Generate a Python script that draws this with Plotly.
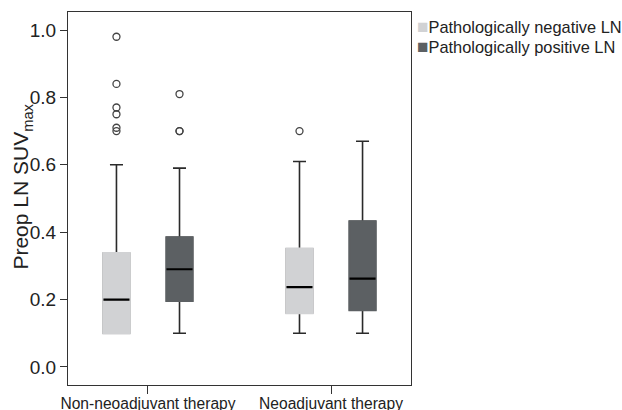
import plotly.graph_objects as go

categories = ["Non-neoadjuvant therapy", "Neoadjuvant therapy"]
series_names = ["Pathologically negative LN", "Pathologically positive LN"]

neg_q1 = [0.10, 0.160]
neg_median = [0.20, 0.237]
neg_q3 = [0.338, 0.351]
neg_lower = [0.10, 0.10]
neg_upper = [0.60, 0.61]
neg_outliers = [[0.98, 0.84, 0.77, 0.75, 0.71, 0.70], [0.70]]

pos_q1 = [0.196, 0.169]
pos_median = [0.290, 0.262]
pos_q3 = [0.385, 0.432]
pos_lower = [0.10, 0.10]
pos_upper = [0.59, 0.67]
pos_outliers = [[0.81, 0.70, 0.70], []]

y_ticks = [0.0, 0.2, 0.4, 0.6, 0.8, 1.0]

fills = ["#d1d2d4", "#5c6063"]
FONT = "Liberation Sans, Arial, Helvetica, sans-serif"

series = [
    (series_names[0], neg_q1, neg_median, neg_q3, neg_lower, neg_upper, neg_outliers, fills[0]),
    (series_names[1], pos_q1, pos_median, pos_q3, pos_lower, pos_upper, pos_outliers, fills[1]),
]

fig = go.Figure()
for name, q1, med, q3, lo, hi, outs, fill in series:
    grp = name
    # full box: whiskers, caps, outliers
    fig.add_trace(go.Box(
        x=categories, q1=q1, median=med, q3=q3, lowerfence=lo, upperfence=hi,
        y=outs, boxpoints="outliers", jitter=0, pointpos=0,
        offsetgroup=grp, name=name, showlegend=False,
        fillcolor=fill, whiskerwidth=0.5,
        line=dict(color="#2a2a2a", width=1.6),
        marker=dict(symbol="circle-open", size=7, color="#444444",
                    line=dict(width=1.3, color="#444444")),
        hoverinfo="skip",
    ))
    # box body without outline
    fig.add_trace(go.Box(
        x=categories, q1=q1, median=q1, q3=q3, lowerfence=q1, upperfence=q3,
        offsetgroup=grp, name=name, showlegend=False, boxpoints=False,
        fillcolor=fill, whiskerwidth=0.5,
        line=dict(color=fill, width=2.2), hoverinfo="skip",
    ))
    # median line
    fig.add_trace(go.Box(
        x=categories, q1=med, median=med, q3=med, lowerfence=med, upperfence=med,
        offsetgroup=grp, name=name, showlegend=False, boxpoints=False,
        fillcolor="rgba(0,0,0,0)", whiskerwidth=0.5,
        line=dict(color="#000000", width=2.2), hoverinfo="skip",
    ))

# legend built from annotations (colored square + label in one text)
row_y = [0.962, 0.908]
for i, (name, fill) in enumerate(zip(series_names, fills)):
    fig.add_annotation(
        x=1, y=row_y[i], xref="paper", yref="paper", xanchor="left", yanchor="middle",
        xshift=4,
        text=f'<span style="color:{fill};font-size:19px">■</span>{name}',
        showarrow=False,
        font=dict(family=FONT, size=16.4, color="#222222"),
    )

# y axis title as annotation
fig.add_annotation(
    x=0, y=0.532, xref="paper", yref="paper", xanchor="center", yanchor="middle",
    xshift=-46, text="Preop LN SUV<sub>max</sub>", textangle=-90, showarrow=False,
    font=dict(family=FONT, size=21, color="#222222"),
)

fig.update_layout(
    width=622, height=410,
    margin=dict(l=68, r=211, t=12, b=25),
    paper_bgcolor="white", plot_bgcolor="white",
    boxmode="group", boxgap=0.311, boxgroupgap=0.587,
    showlegend=False,
    font=dict(family=FONT, color="#222222"),
)
fig.update_xaxes(
    type="category", range=[-0.437, 1.437], automargin=False,
    showline=True, mirror=True, linecolor="#333333", linewidth=1,
    ticks="outside", ticklen=8, tickcolor="#333333", tickwidth=1,
    ticklabelstandoff=-4,
    tickfont=dict(family=FONT, size=15.6, color="#222222"),
    showgrid=False, zeroline=False,
)
fig.update_yaxes(
    range=[-0.0535, 1.0535], automargin=False,
    tickvals=y_ticks, ticktext=[f"{v:.1f}" for v in y_ticks],
    showline=True, mirror=True, linecolor="#333333", linewidth=1,
    ticks="outside", ticklen=7, tickcolor="#333333", tickwidth=1,
    tickfont=dict(family=FONT, size=19, color="#222222"),
    showgrid=False, zeroline=False,
)

fig.write_html("out.html")
